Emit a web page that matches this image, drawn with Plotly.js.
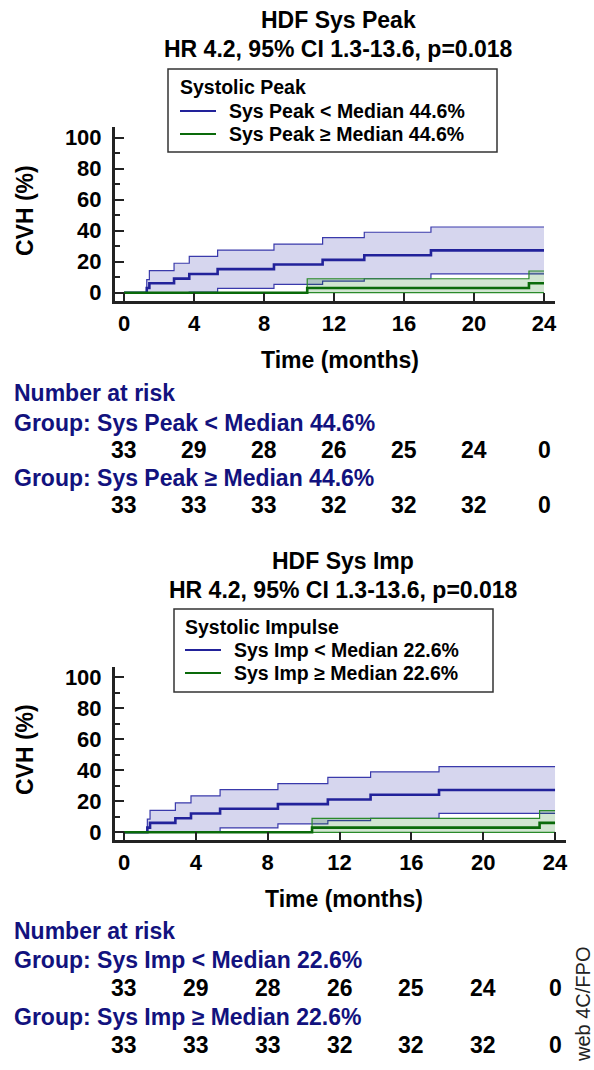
<!DOCTYPE html>
<html>
<head>
<meta charset="utf-8">
<script src="https://cdn.plot.ly/plotly-3.0.1.min.js"></script>
<style>
  html, body { margin: 0; padding: 0; background: #fff; }
  #chart { width: 594px; height: 1070px; }
</style>
</head>
<body>
<div id="chart"></div>
<script>
// ---------------- DATA ----------------
// Kaplan-Meier cumulative incidence (%) – group below median
const timesLow  = [0, 1.3, 1.45, 2.86, 3.73, 5.35, 8.57, 11.35, 13.73, 17.54, 24];
const cvhLow    = [0, 3.0, 6.1, 9.1, 12.1, 15.2, 18.2, 21.2, 24.2, 27.3, 27.3];
const ciUpLow   = [0, 8.5, 14.2, 19.0, 23.5, 27.5, 31.4, 35.5, 39.0, 42.4, 42.4];
const ciLoLow   = [0, 0, 0, 0, 0.4, 2.8, 5.4, 7.5, 9.0, 12.2, 12.2];
// group at/above median
const timesHigh = [0, 10.47, 23.14, 24];
const cvhHigh   = [0, 3.0, 6.1, 6.1];
const ciUpHigh  = [0, 9.0, 14.0, 14.0];
const ciLoHigh  = [0, 0, 0, 0];

// Number at risk
const riskMonths    = [0, 4, 8, 12, 16, 20, 24];
const riskPeakLow   = [33, 29, 28, 26, 25, 24, 0];
const riskPeakHigh  = [33, 33, 33, 32, 32, 32, 0];
const riskImpLow    = [33, 29, 28, 26, 25, 24, 0];
const riskImpHigh   = [33, 33, 33, 32, 32, 32, 0];

const xTicks = [0, 4, 8, 12, 16, 20, 24];
const yTicks = [0, 20, 40, 60, 80, 100];

const panelTitles   = ['HDF Sys Peak', 'HDF Sys Imp'];
const panelSubs     = ['HR 4.2, 95% CI 1.3-13.6, p=0.018', 'HR 4.2, 95% CI 1.3-13.6, p=0.018'];
const legendTitles  = ['Systolic Peak', 'Systolic Impulse'];
const lowLabels     = ['Sys Peak < Median 44.6%', 'Sys Imp < Median 22.6%'];
const highLabels    = ['Sys Peak ≥ Median 44.6%', 'Sys Imp ≥ Median 22.6%'];
const riskLowRows   = [riskPeakLow, riskImpLow];
const riskHighRows  = [riskPeakHigh, riskImpHigh];

// ---------------- STYLE ----------------
const W = 594, H = 1070;
const FONT = 'Liberation Sans, Arial, Helvetica, sans-serif';
const BLUE = '#22229a';
const BLUE_CI = '#3a3aab';
const GREEN = '#0a6a0a';
const GREEN_CI = '#2a8a2a';
const BLUE_FILL = 'rgba(30,30,160,0.18)';
const GREEN_FILL = 'rgba(0,110,0,0.18)';
const NAVY = '#12127e';
const AXC = '#222';

const px = v => v / W;
const py = v => 1 - v / H;

// panel geometry (pixels)
const P = [
  { xl: 115, xr: 555, x0: 124, kx: 17.5,  yt: 127,   yb: 301.2, y0: 292.7, ky: 1.55,
    title: 20, sub: 49, box: [168, 69, 497, 152], legT: 87, leg1: 111, leg2: 134, legX: 180, legTX: 229,
    cvhY: 211, timeX: 340, timeY: 360, nar: 393, g1: 423, n1: 450, g2: 478, n2: 505, titleX: 338 },
  { xl: 115, xr: 566, x0: 124, kx: 17.96, yt: 667.3, yb: 840.2, y0: 832.3, ky: 1.55,
    title: 561, sub: 590, box: [174, 609, 493, 692], legT: 627, leg1: 650, leg2: 673, legX: 185, legTX: 234,
    cvhY: 750, timeX: 344, timeY: 899, nar: 931, g1: 960, n1: 988, g2: 1017, n2: 1045, titleX: 343 }
];

const traces = [];
const annotations = [];
const shapes = [];
const layout = {
  width: W, height: H,
  margin: { l: 0, r: 0, t: 0, b: 0 },
  paper_bgcolor: '#fff', plot_bgcolor: 'rgba(0,0,0,0)',
  showlegend: false,
  font: { family: FONT, color: '#000' },
  annotations, shapes
};

P.forEach((g, i) => {
  const xa = i === 0 ? 'x' : 'x2';
  const ya = i === 0 ? 'y' : 'y2';
  const xKey = i === 0 ? 'xaxis' : 'xaxis2';
  const yKey = i === 0 ? 'yaxis' : 'yaxis2';

  layout[xKey] = {
    domain: [px(g.xl), px(g.xr)],
    range: [(g.xl - g.x0) / g.kx, (g.xr - g.x0) / g.kx],
    anchor: ya,
    showline: true, linewidth: 3, linecolor: AXC,
    ticks: 'inside', ticklen: 8, tickwidth: 2, tickcolor: AXC,
    tickmode: 'array', tickvals: xTicks,
    tickfont: { family: FONT, size: 22, color: '#000', weight: 'bold' },
    ticklabelstandoff: 0,
    showgrid: false, zeroline: false, fixedrange: true
  };
  layout[yKey] = {
    domain: [py(g.yb), py(g.yt)],
    range: [(g.y0 - g.yb) / g.ky, (g.y0 - g.yt) / g.ky],
    anchor: xa,
    showline: true, linewidth: 3, linecolor: AXC,
    ticks: 'inside', ticklen: 9, tickwidth: 2, tickcolor: AXC,
    tickmode: 'array', tickvals: yTicks,
    minor: { tickmode: 'linear', tick0: 10, dtick: 20, ticks: 'inside', ticklen: 5, tickwidth: 2, tickcolor: AXC, showgrid: false },
    tickfont: { family: FONT, size: 22, color: '#000', weight: 'bold' },
    ticklabelstandoff: 6,
    showgrid: false, zeroline: false, fixedrange: true
  };

  const common = { xaxis: xa, yaxis: ya, mode: 'lines', hoverinfo: 'skip', showlegend: false };
  traces.push(Object.assign({}, common, { x: timesLow, y: ciUpLow, line: { shape: 'hv', color: BLUE_CI, width: 1.2 } }));
  traces.push(Object.assign({}, common, { x: timesLow, y: ciLoLow, line: { shape: 'hv', color: BLUE_CI, width: 1.2 }, fill: 'tonexty', fillcolor: BLUE_FILL }));
  traces.push(Object.assign({}, common, { x: timesHigh, y: ciUpHigh, line: { shape: 'hv', color: GREEN_CI, width: 1.2 } }));
  traces.push(Object.assign({}, common, { x: timesHigh, y: ciLoHigh, line: { shape: 'hv', color: GREEN_CI, width: 1.2 }, fill: 'tonexty', fillcolor: GREEN_FILL }));
  traces.push(Object.assign({}, common, { name: lowLabels[i], x: timesLow, y: cvhLow, line: { shape: 'hv', color: BLUE, width: 2.6 } }));
  traces.push(Object.assign({}, common, { name: highLabels[i], x: timesHigh, y: cvhHigh, line: { shape: 'hv', color: GREEN, width: 2.6 } }));

  // titles
  const tfont = { family: FONT, size: 23, color: '#000', weight: 'bold' };
  annotations.push({ xref: 'paper', yref: 'paper', x: px(g.titleX), y: py(g.title), text: panelTitles[i], showarrow: false, xanchor: 'center', yanchor: 'middle', font: tfont });
  annotations.push({ xref: 'paper', yref: 'paper', x: px(g.titleX), y: py(g.sub), text: panelSubs[i], showarrow: false, xanchor: 'center', yanchor: 'middle', font: tfont });

  // legend box
  shapes.push({ type: 'rect', xref: 'paper', yref: 'paper', x0: px(g.box[0]), x1: px(g.box[2]), y0: py(g.box[3]), y1: py(g.box[1]), line: { color: '#333', width: 1.5 }, fillcolor: 'rgba(255,255,255,0)' });
  const lfont = { family: FONT, size: 19.5, color: '#000', weight: 'bold' };
  annotations.push({ xref: 'paper', yref: 'paper', x: px(g.legX - 2), y: py(g.legT), text: legendTitles[i], showarrow: false, xanchor: 'left', yanchor: 'middle', font: lfont });
  shapes.push({ type: 'line', xref: 'paper', yref: 'paper', x0: px(g.legX), x1: px(g.legX + 36), y0: py(g.leg1), y1: py(g.leg1), line: { color: BLUE, width: 2 } });
  shapes.push({ type: 'line', xref: 'paper', yref: 'paper', x0: px(g.legX), x1: px(g.legX + 36), y0: py(g.leg2), y1: py(g.leg2), line: { color: GREEN, width: 2 } });
  annotations.push({ xref: 'paper', yref: 'paper', x: px(g.legTX - 2), y: py(g.leg1), text: lowLabels[i], showarrow: false, xanchor: 'left', yanchor: 'middle', font: lfont });
  annotations.push({ xref: 'paper', yref: 'paper', x: px(g.legTX - 2), y: py(g.leg2), text: highLabels[i], showarrow: false, xanchor: 'left', yanchor: 'middle', font: lfont });

  // axis titles
  annotations.push({ xref: 'paper', yref: 'paper', x: px(25), y: py(g.cvhY), text: 'CVH (%)', textangle: -90, showarrow: false, xanchor: 'center', yanchor: 'middle', font: tfont });
  annotations.push({ xref: 'paper', yref: 'paper', x: px(g.timeX), y: py(g.timeY), text: 'Time (months)', showarrow: false, xanchor: 'center', yanchor: 'middle', font: tfont });

  // number at risk
  const rfont = { family: FONT, size: 23, color: NAVY, weight: 'bold' };
  const nfont = { family: FONT, size: 23, color: '#000', weight: 'bold' };
  annotations.push({ xref: 'paper', yref: 'paper', x: px(12), y: py(g.nar), text: 'Number at risk', showarrow: false, xanchor: 'left', yanchor: 'middle', font: rfont });
  annotations.push({ xref: 'paper', yref: 'paper', x: px(12), y: py(g.g1), text: 'Group: ' + lowLabels[i], showarrow: false, xanchor: 'left', yanchor: 'middle', font: rfont });
  annotations.push({ xref: 'paper', yref: 'paper', x: px(12), y: py(g.g2), text: 'Group: ' + highLabels[i], showarrow: false, xanchor: 'left', yanchor: 'middle', font: rfont });
  riskMonths.forEach((m, k) => {
    annotations.push({ xref: xa, yref: 'paper', x: m, y: py(g.n1), text: String(riskLowRows[i][k]), showarrow: false, xanchor: 'center', yanchor: 'middle', font: nfont });
    annotations.push({ xref: xa, yref: 'paper', x: m, y: py(g.n2), text: String(riskHighRows[i][k]), showarrow: false, xanchor: 'center', yanchor: 'middle', font: nfont });
  });
});

annotations.push({ xref: 'paper', yref: 'paper', x: px(583), y: py(1005), text: 'web 4C/FPO', textangle: -90, showarrow: false, xanchor: 'center', yanchor: 'middle', font: { family: FONT, size: 20, color: '#222' } });

Plotly.newPlot('chart', traces, layout, { staticPlot: true, displayModeBar: false });
</script>
</body>
</html>
